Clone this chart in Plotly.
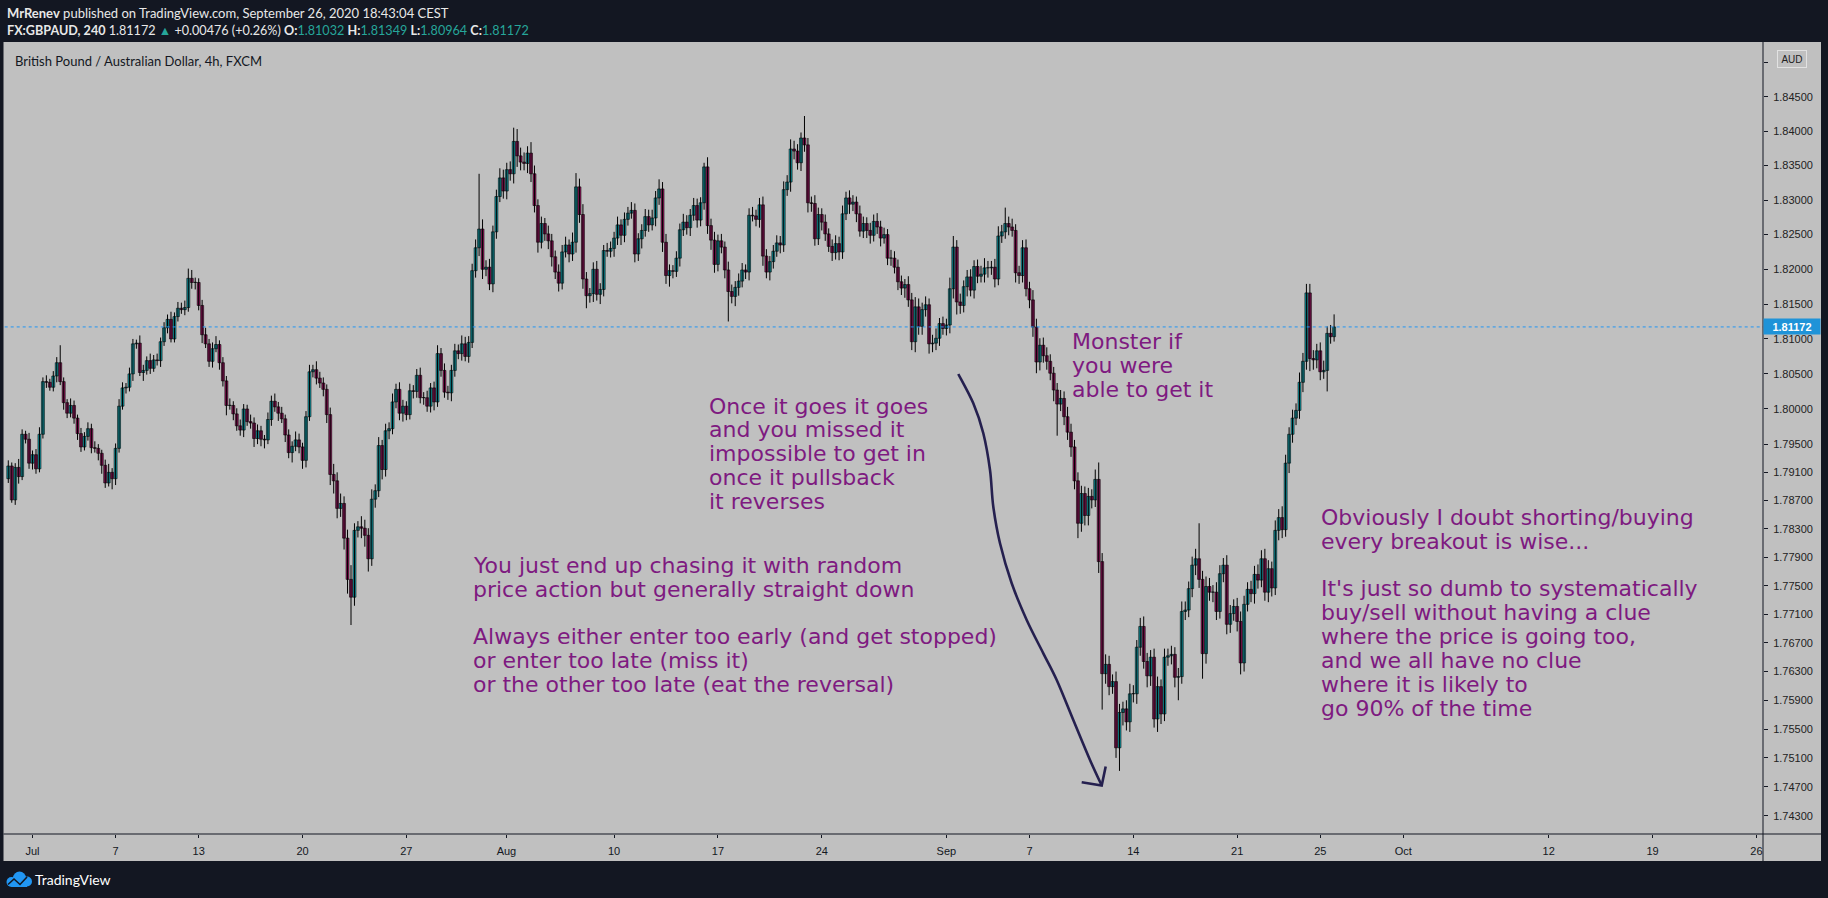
import math
import plotly.graph_objects as go

# ---------------- data (GBPAUD 4h) ----------------
first_open = 1.7901
closes = [
    1.7919, 1.7871, 1.7917, 1.7904, 1.7964, 1.7957, 1.7923, 1.7935, 1.7915, 1.7964, 1.8039, 1.8038,
    1.8031, 1.8047, 1.8066, 1.8039, 1.8009, 1.7994, 1.8005, 1.7987, 1.7965, 1.7946, 1.7961, 1.7972,
    1.7945, 1.7944, 1.7937, 1.7920, 1.7895, 1.7910, 1.7901, 1.7944, 1.8004, 1.8030, 1.8031, 1.8050,
    1.8093, 1.8094, 1.8052, 1.8055, 1.8069, 1.8058, 1.8070, 1.8069, 1.8096, 1.8116, 1.8128, 1.8100,
    1.8132, 1.8144, 1.8142, 1.8145, 1.8187, 1.8181, 1.8181, 1.8148, 1.8106, 1.8093, 1.8068, 1.8086,
    1.8092, 1.8066, 1.8040, 1.8005, 1.8005, 1.7993, 1.7976, 1.7970, 1.8000, 1.7982, 1.7980, 1.7958,
    1.7969, 1.7957, 1.7956, 1.7985, 1.8011, 1.8003, 1.7994, 1.7986, 1.7963, 1.7938, 1.7947, 1.7956,
    1.7946, 1.7927, 1.7989, 1.8053, 1.8056, 1.8044, 1.8037, 1.8028, 1.7992, 1.7907, 1.7898, 1.7859,
    1.7866, 1.7817, 1.7759, 1.7734, 1.7828, 1.7833, 1.7831, 1.7821, 1.7788, 1.7872, 1.7884, 1.7948,
    1.7914, 1.7969, 1.7972, 1.8010, 1.8028, 1.7994, 1.8004, 1.7992, 1.8026, 1.8025, 1.8048, 1.8016,
    1.8016, 1.8004, 1.8030, 1.8010, 1.8079, 1.8055, 1.8024, 1.8023, 1.8055, 1.8083, 1.8079, 1.8093,
    1.8075, 1.8095, 1.8198, 1.8231, 1.8258, 1.8200, 1.8203, 1.8179, 1.8254, 1.8305, 1.8332, 1.8313,
    1.8344, 1.8338, 1.8385, 1.8364, 1.8355, 1.8353, 1.8368, 1.8338, 1.8292, 1.8239, 1.8266, 1.8251,
    1.8241, 1.8218, 1.8196, 1.8180, 1.8225, 1.8235, 1.8222, 1.8239, 1.8319, 1.8279, 1.8186, 1.8162,
    1.8165, 1.8200, 1.8164, 1.8171, 1.8227, 1.8226, 1.8230, 1.8245, 1.8264, 1.8249, 1.8272, 1.8281,
    1.8285, 1.8222, 1.8244, 1.8256, 1.8276, 1.8264, 1.8274, 1.8303, 1.8316, 1.8239, 1.8191, 1.8198,
    1.8197, 1.8216, 1.8257, 1.8268, 1.8260, 1.8278, 1.8292, 1.8271, 1.8296, 1.8348, 1.8263, 1.8242,
    1.8207, 1.8241, 1.8232, 1.8199, 1.8168, 1.8161, 1.8174, 1.8183, 1.8199, 1.8196, 1.8278, 1.8277,
    1.8272, 1.8293, 1.8219, 1.8196, 1.8211, 1.8226, 1.8238, 1.8235, 1.8315, 1.8326, 1.8374, 1.8371,
    1.8354, 1.8390, 1.8380, 1.8296, 1.8295, 1.8244, 1.8279, 1.8268, 1.8251, 1.8233, 1.8224, 1.8237,
    1.8225, 1.8280, 1.8303, 1.8294, 1.8297, 1.8280, 1.8255, 1.8266, 1.8256, 1.8249, 1.8269, 1.8261,
    1.8245, 1.8250, 1.8216, 1.8216, 1.8203, 1.8182, 1.8173, 1.8178, 1.8156, 1.8096, 1.8146, 1.8118,
    1.8142, 1.8149, 1.8093, 1.8094, 1.8101, 1.8122, 1.8115, 1.8120, 1.8172, 1.8232, 1.8153, 1.8148,
    1.8175, 1.8189, 1.8170, 1.8204, 1.8190, 1.8193, 1.8202, 1.8202, 1.8203, 1.8186, 1.8248, 1.8254,
    1.8266, 1.8261, 1.8256, 1.8195, 1.8191, 1.8231, 1.8172, 1.8156, 1.8117, 1.8067, 1.8091, 1.8076,
    1.8068, 1.8051, 1.8027, 1.8007, 1.8015, 1.7989, 1.7967, 1.7946, 1.7898, 1.7838, 1.7880, 1.7849,
    1.7876, 1.7871, 1.7900, 1.7784, 1.7627, 1.7640, 1.7609, 1.7616, 1.7524, 1.7573, 1.7578, 1.7560,
    1.7599, 1.7599, 1.7664, 1.7693, 1.7644, 1.7624, 1.7650, 1.7564, 1.7609, 1.7571, 1.7650, 1.7652,
    1.7654, 1.7622, 1.7623, 1.7714, 1.7716, 1.7746, 1.7779, 1.7788, 1.7759, 1.7655, 1.7749, 1.7741,
    1.7741, 1.7714, 1.7767, 1.7779, 1.7696, 1.7711, 1.7721, 1.7700, 1.7642, 1.7724, 1.7745, 1.7739,
    1.7766, 1.7758, 1.7788, 1.7741, 1.7774, 1.7747, 1.7828, 1.7846, 1.7829, 1.7923, 1.7964, 1.7987,
    1.7998, 1.8038, 1.8068, 1.8166, 1.8072, 1.8070, 1.8083, 1.8053, 1.8055, 1.8108, 1.81032, 1.81172,
]
# upper / lower wick lengths in pips (0.0001)
wick_up_pips = [
    8, 5, 6, 12, 7, 5, 9, 6, 8, 10, 6, 9, 5, 7, 8, 25, 6, 5, 10, 7, 5, 8, 6, 9,
    7, 9, 6, 5, 8, 12, 6, 7, 10, 8, 6, 9, 7, 5, 11, 8, 6, 10, 7, 9, 6, 8, 7, 11,
    6, 9, 8, 10, 14, 12, 7, 6, 8, 10, 7, 9, 12, 6, 8, 7, 10, 6, 8, 9, 7, 6, 10, 8,
    9, 7, 6, 10, 8, 11, 7, 9, 6, 8, 7, 12, 9, 6, 8, 10, 7, 12, 9, 8, 7, 10, 15, 12,
    14, 10, 12, 20, 10, 8, 15, 12, 10, 14, 9, 12, 8, 10, 9, 12, 8, 10, 9, 7, 10, 8, 9, 11,
    8, 10, 7, 9, 12, 8, 10, 9, 8, 10, 9, 12, 10, 9, 10, 12, 80, 14, 10, 12, 9, 10, 14, 12,
    10, 12, 20, 18, 12, 14, 10, 16, 12, 9, 10, 8, 12, 10, 9, 11, 10, 12, 8, 14, 20, 12, 15, 10,
    8, 10, 12, 9, 8, 11, 10, 9, 12, 8, 10, 9, 12, 10, 8, 9, 11, 10, 12, 10, 14, 10, 12, 9,
    8, 10, 9, 12, 10, 9, 11, 10, 8, 6, 14, 10, 12, 9, 10, 8, 12, 10, 9, 11, 10, 8, 10, 12,
    9, 10, 12, 10, 8, 9, 11, 10, 12, 10, 14, 12, 10, 8, 32, 10, 9, 12, 10, 9, 11, 8, 10, 12,
    10, 12, 9, 11, 10, 8, 12, 10, 9, 11, 10, 12, 9, 10, 8, 12, 10, 11, 9, 8, 12, 10, 14, 12,
    10, 12, 9, 12, 14, 8, 10, 9, 16, 16, 10, 12, 9, 10, 11, 9, 10, 12, 14, 10, 9, 12, 14, 10,
    23, 10, 12, 9, 10, 11, 12, 10, 14, 12, 10, 11, 12, 10, 9, 10, 12, 10, 14, 12, 10, 12, 11, 10,
    12, 10, 14, 24, 12, 14, 12, 10, 14, 12, 10, 12, 14, 12, 10, 12, 14, 12, 10, 12, 14, 10, 12, 10,
    12, 10, 12, 14, 12, 10, 12, 14, 50, 12, 14, 12, 10, 14, 12, 10, 14, 12, 10, 12, 14, 12, 10, 12,
    12, 14, 12, 14, 12, 10, 14, 12, 16, 12, 10, 12, 10, 14, 12, 13, 13, 12, 10, 12, 14, 10, 12, 18,
]
wick_down_pips = [
    6, 4, 7, 10, 5, 6, 8, 9, 7, 5, 6, 8, 5, 6, 9, 5, 10, 7, 6, 8, 9, 7, 5, 6,
    8, 6, 10, 12, 7, 5, 15, 9, 6, 5, 8, 6, 10, 7, 5, 12, 6, 8, 5, 7, 9, 6, 8, 5,
    5, 7, 6, 8, 6, 9, 10, 7, 12, 6, 8, 9, 5, 10, 8, 14, 6, 9, 7, 8, 10, 6, 8, 12,
    8, 10, 12, 6, 9, 7, 11, 6, 10, 8, 14, 7, 9, 12, 10, 6, 8, 9, 7, 10, 12, 15, 18, 14,
    12, 16, 20, 39, 12, 10, 14, 16, 18, 10, 12, 9, 14, 10, 12, 8, 9, 10, 12, 8, 7, 10, 9, 8,
    10, 8, 9, 12, 7, 9, 8, 10, 12, 9, 8, 10, 7, 9, 8, 10, 12, 14, 10, 9, 12, 10, 8, 11,
    12, 10, 14, 16, 12, 10, 14, 12, 10, 15, 9, 10, 12, 14, 10, 12, 9, 8, 12, 10, 15, 12, 14, 18,
    10, 12, 9, 14, 10, 8, 9, 12, 10, 14, 10, 9, 8, 12, 10, 14, 9, 10, 8, 12, 10, 14, 12, 16,
    10, 8, 12, 9, 10, 12, 8, 11, 9, 10, 12, 14, 12, 10, 9, 12, 43, 10, 14, 12, 9, 10, 12, 8,
    10, 12, 14, 9, 12, 10, 8, 12, 10, 9, 14, 12, 10, 12, 10, 14, 12, 10, 9, 12, 10, 8, 12, 10,
    12, 10, 9, 14, 10, 12, 8, 10, 11, 12, 9, 10, 12, 8, 10, 11, 9, 12, 10, 14, 10, 12, 15, 12,
    12, 10, 14, 12, 10, 11, 9, 10, 12, 14, 18, 12, 10, 14, 9, 12, 10, 9, 12, 14, 10, 12, 9, 10,
    10, 12, 9, 14, 12, 10, 11, 12, 14, 16, 12, 10, 12, 10, 16, 45, 10, 12, 11, 14, 12, 21, 12, 14,
    14, 12, 10, 16, 50, 14, 12, 10, 14, 32, 18, 12, 14, 12, 14, 12, 10, 16, 14, 12, 18, 14, 10, 12,
    12, 14, 32, 10, 12, 10, 12, 14, 12, 35, 14, 12, 14, 12, 10, 12, 14, 12, 10, 14, 16, 12, 10, 12,
    14, 12, 10, 12, 14, 12, 10, 14, 12, 10, 14, 12, 10, 12, 14, 12, 18, 14, 12, 12, 10, 30, 10, 7,
]
# time axis: tick positions in bar units and their labels
time_tick_bars = [7, 31, 55, 85, 115, 143.9, 175, 205, 235, 271, 295, 325, 355, 379, 403, 445, 475, 505]
time_tick_labels = ["Jul", "7", "13", "20", "27", "Aug", "10", "17", "24", "Sep", "7", "14", "21", "25",
                    "Oct", "12", "19", "26"]
price_ticks = [1.850, 1.845, 1.840, 1.835, 1.830, 1.825, 1.820, 1.815, 1.810, 1.805, 1.800, 1.795,
               1.791, 1.787, 1.783, 1.779, 1.775, 1.771, 1.767, 1.763, 1.759, 1.755, 1.751, 1.747, 1.743]
price_range = [1.74049, 1.85287]
bar_range = [-1.24, 506.9]

# ---------------- derived OHLC ----------------
opens = [first_open] + closes[:-1]
highs = [max(o, c) + u * 0.0001 for o, c, u in zip(opens, closes, wick_up_pips)]
lows = [min(o, c) - d * 0.0001 for o, c, d in zip(opens, closes, wick_down_pips)]
bars = list(range(len(closes)))
last_close = closes[-1]

# ---------------- geometry helpers (pixel -> paper) ----------------
W, H = 1828, 898
PL, PR, PT, PB = 4, 1763, 43, 834


def px(x):
    return (x - PL) / (PR - PL)


def py(y):
    return (PB - y) / (PB - PT)


BG = "#131722"
PANEL = "#c0c0c0"
PURPLE = "#7e1a80"
TEAL = "#26a69a"
UP_FILL = "#12a2ad"
DOWN_FILL = "#9a1560"
MIN_BODY = 0.00003

fig = go.Figure()

# wicks
wx, wy = [], []
for i in bars:
    wx += [i, i, None]
    wy += [lows[i], highs[i], None]
fig.add_trace(go.Scatter(x=wx, y=wy, mode="lines", line=dict(color="#000000", width=1),
                         showlegend=False, hoverinfo="skip"))

# bodies
for is_up, fill in [(True, UP_FILL), (False, DOWN_FILL)]:
    idx = [i for i in bars if (closes[i] >= opens[i]) == is_up]
    fig.add_trace(go.Bar(
        x=idx,
        base=[min(opens[i], closes[i]) for i in idx],
        y=[max(abs(closes[i] - opens[i]), MIN_BODY) for i in idx],
        width=0.86,
        marker=dict(color=fill, line=dict(color="#000000", width=0.6)),
        showlegend=False, hoverinfo="skip",
    ))

fig.add_trace(go.Scatter(
    x=[bar_range[0] - 5, bar_range[1] + 5], y=[last_close, last_close], mode="lines",
    line=dict(color="#2196f3", width=1, dash="dot"), showlegend=False, hoverinfo="skip",
))

shapes = []
shapes.append(dict(type="rect", xref="paper", yref="paper", x0=px(3.5), x1=px(1821), y0=py(861),
                   y1=py(42), fillcolor=PANEL, line=dict(width=0), layer="below"))
shapes.append(dict(type="line", xref="paper", yref="paper", x0=px(1763), x1=px(1763), y0=py(861),
                   y1=py(42), line=dict(color=BG, width=1)))
shapes.append(dict(type="line", xref="paper", yref="paper", x0=px(3.5), x1=px(1821), y0=py(834),
                   y1=py(834), line=dict(color=BG, width=1)))


def smooth_path(points):
    pts = [(px(x), py(y)) for x, y in points]
    d = "M %.5f,%.5f" % pts[0]
    n = len(pts)
    for i in range(n - 1):
        p0 = pts[max(i - 1, 0)]
        p1 = pts[i]
        p2 = pts[i + 1]
        p3 = pts[min(i + 2, n - 1)]
        c1 = (p1[0] + (p2[0] - p0[0]) / 6, p1[1] + (p2[1] - p0[1]) / 6)
        c2 = (p2[0] - (p3[0] - p1[0]) / 6, p2[1] - (p3[1] - p1[1]) / 6)
        d += " C %.5f,%.5f %.5f,%.5f %.5f,%.5f" % (c1[0], c1[1], c2[0], c2[1], p2[0], p2[1])
    return d


arrow_pts = [(958.3, 374), (973.3, 403.3), (983.3, 433.3), (990, 470), (993.3, 506.7), (1000, 543.3),
             (1011.7, 583.3), (1026.7, 620), (1043.3, 653.3), (1056.7, 680), (1073.3, 720),
             (1090, 760), (1101.7, 785.5)]
ARROW = "#25204f"
shapes.append(dict(type="path", xref="paper", yref="paper", path=smooth_path(arrow_pts),
                   line=dict(color=ARROW, width=2.6)))
head = [(1081.7, 782.3), (1101.7, 785.5), (1105.7, 766.5)]
shapes.append(dict(type="path", xref="paper", yref="paper",
                   path="M %.5f,%.5f L %.5f,%.5f L %.5f,%.5f" % (
                       px(head[0][0]), py(head[0][1]), px(head[1][0]), py(head[1][1]),
                       px(head[2][0]), py(head[2][1])),
                   line=dict(color=ARROW, width=2.6)))

# TradingView logo
LOGO = "#2196f3"
for (cx, cy, r) in [(11.5, 882.0, 5.0), (19.5, 878.0, 6.5), (27.0, 881.5, 5.0)]:
    shapes.append(dict(type="circle", xref="paper", yref="paper", x0=px(cx - r), x1=px(cx + r),
                       y0=py(cy + r), y1=py(cy - r), fillcolor=LOGO, line=dict(width=0)))
shapes.append(dict(type="rect", xref="paper", yref="paper", x0=px(11.5), x1=px(27), y0=py(887),
                   y1=py(880), fillcolor=LOGO, line=dict(width=0)))
shapes.append(dict(type="path", xref="paper", yref="paper",
                   path="M %.5f,%.5f L %.5f,%.5f L %.5f,%.5f L %.5f,%.5f" % (
                       px(8), py(884.5), px(14), py(879), px(20), py(884.5), px(27), py(877)),
                   line=dict(color=BG, width=1.6)))

annotations = []


def txt(x, y, text, size, color, family="DejaVu Sans", xanchor="left", yanchor="middle", **kw):
    annotations.append(dict(xref="paper", yref="paper", x=px(x), y=py(y), text=text, showarrow=False,
                            xanchor=xanchor, yanchor=yanchor, align="left",
                            font=dict(size=size, color=color, family=family), borderpad=0, **kw))


txt(5.5, 13.5, "<b>MrRenev</b> published on TradingView.com, September 26, 2020 18:43:04 CEST",
    13, "#e8e8e8", family="Lato")
tc = lambda s: "<span style='color:%s'>%s</span>" % (TEAL, s)
txt(5.5, 30.5, "<b>FX:GBPAUD, 240</b> 1.81172 " + tc("▲") + " +0.00476 (+0.26%) <b>O:</b>" + tc("1.81032")
    + " <b>H:</b>" + tc("1.81349") + " <b>L:</b>" + tc("1.80964") + " <b>C:</b>" + tc("1.81172"),
    12.6, "#e8e8e8", family="Lato")
txt(14, 61, "British Pound / Australian Dollar, 4h, FXCM", 13, BG, family="Lato")
txt(34, 879.5, "TradingView", 14, "#ffffff", family="Lato")

LS = 23.85
blocks = [
    (707.6, 406.0, ["Once it goes it goes", "and you missed it", "impossible to get in",
                    "once it pullsback", "it reverses"]),
    (472.0, 565.4, ["You just end up chasing it with random", "price action but generally straight down", "",
                    "Always either enter too early (and get stopped)", "or enter too late (miss it)",
                    "or the other too late (eat the reversal)"]),
    (1070.5, 341.7, ["Monster if", "you were", "able to get it"]),
    (1320.0, 517.3, ["Obviously I doubt shorting/buying", "every breakout is wise...", "",
                     "It's just so dumb to systematically", "buy/sell without having a clue",
                     "where the price is going too,", "and we all have no clue", "where it is likely to",
                     "go 90% of the time"]),
]
for bx, by, lines in blocks:
    for i, line in enumerate(lines):
        if line:
            txt(bx, by + i * LS, line, 22, PURPLE)

annotations.append(dict(xref="paper", yref="y", x=px(1791.5), y=math.log10(last_close),
                        text="<b>%.5f</b>" % last_close, showarrow=False, bgcolor="#1f93d8",
                        font=dict(size=11, color="#ffffff", family="Liberation Sans"),
                        width=56, height=15, borderpad=0, xanchor="center", yanchor="middle"))
annotations.append(dict(xref="paper", yref="paper", x=px(1792), y=py(59), text="AUD", showarrow=False,
                        bgcolor=PANEL, bordercolor="#e2e2e2", borderwidth=1, borderpad=0,
                        width=28, height=16, font=dict(size=10, color="#222222", family="Liberation Sans"),
                        xanchor="center", yanchor="middle"))

# the top tick label sits under the currency box in the reference
price_tick_text = ["" if v == price_ticks[0] else "%.5f" % v for v in price_ticks]

fig.update_layout(
    width=W, height=H,
    margin=dict(l=PL, r=W - PR, t=PT, b=H - PB, autoexpand=False),
    paper_bgcolor=BG, plot_bgcolor=PANEL,
    showlegend=False, hovermode=False, barmode="overlay",
    shapes=shapes, annotations=annotations,
    xaxis=dict(range=bar_range, tickvals=time_tick_bars, ticktext=time_tick_labels,
               ticks="outside", ticklen=3, tickcolor=BG, showgrid=False, zeroline=False,
               showline=False, tickfont=dict(size=11, color=BG, family="Liberation Sans"),
               fixedrange=True, ticklabelstandoff=4),
    yaxis=dict(type="log", side="right", range=[math.log10(price_range[0]), math.log10(price_range[1])],
               tickvals=price_ticks, ticktext=price_tick_text,
               ticks="outside", ticklen=4, tickcolor=BG, showgrid=False, zeroline=False, showline=False,
               tickfont=dict(size=11, color="#222222", family="Liberation Sans"), fixedrange=True,
               ticklabelstandoff=3),
)

fig.write_html("out.html", config={"displayModeBar": False}, post_script=(
    "document.body.style.margin='0';document.body.style.background='#131722';"
    "document.body.style.overflow='hidden';"))
